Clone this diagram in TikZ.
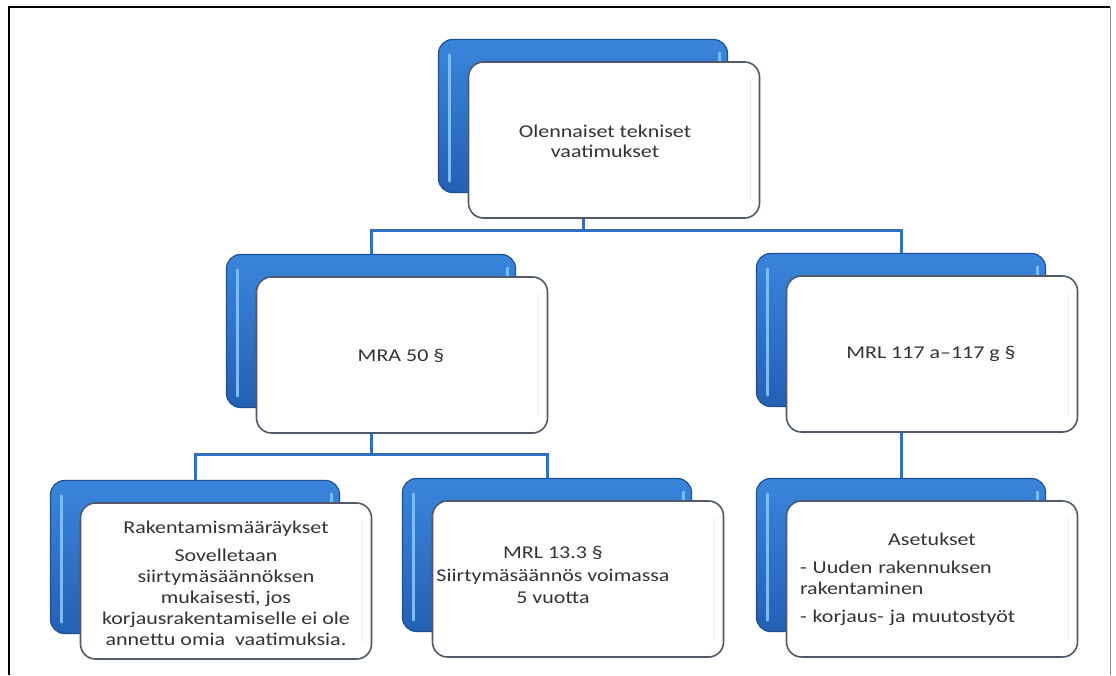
\documentclass[tikz,border=0pt]{standalone}
\usepackage{fontspec}
\setmainfont{Carlito}[FakeStretch=1.22]
\definecolor{blueTop}{HTML}{3A85DA}
\definecolor{blueBot}{HTML}{2460B4}
\definecolor{blueEdge}{HTML}{1E4F95}
\definecolor{blueHl}{HTML}{7CBCF4}
\definecolor{frameGray}{HTML}{4F5968}
\definecolor{txtGray}{HTML}{333333}
\definecolor{connBlue}{HTML}{3070BF}
\begin{document}
\begin{tikzpicture}[x=1pt,y=-1pt,
  back/.style={rectangle, rounded corners=14pt, minimum width=289pt, minimum height=153pt,
    top color=blueTop, bottom color=blueBot, draw=blueEdge, line width=1.2pt, inner sep=0pt},
  front/.style={rectangle, rounded corners=15pt, minimum width=291pt, minimum height=156pt,
    fill=white, draw=frameGray, line width=1.6pt, inner sep=0pt},
  hl/.style={draw=blueHl, line width=3pt, line cap=round},
  inner/.style={draw=black!8, line width=1.5pt},
  txt/.style={font=\fontsize{18}{21}\selectfont, text=txtGray, align=center, inner sep=0pt},
  conn/.style={draw=connBlue, line width=3pt}]
\useasboundingbox[fill=white] (0,0) rectangle (1116,675);
% frame
\draw[black, line width=2pt] (9,675) -- (9,7) -- (1110,7);
\draw[black!45, line width=1pt] (1110,7) -- (1110,675);
% junctions
\coordinate (j1) at (583,230);
\coordinate (j2) at (371,454);
% top box
\node[back] (topB) at (583,116) {};
\draw[hl] ([shift={(12,16)}]topB.north west) -- ([shift={(12,-12)}]topB.south west);
\draw[hl] ([shift={(-9,14)}]topB.north east) -- ([shift={(-9,22)}]topB.north east);
\node[front] (topF) at (614,140) {};
\draw[inner] ([shift={(-10,18)}]topF.north east) -- ([shift={(-10,-18)}]topF.south east);
% second row
\node[back] (mraB) at (371,331) {};
\node[back] (mrlB) at (901,330) {};
% third row
\node[back] (lbB) at (195,557) {};
\node[back] (midB) at (547,555) {};
\node[back] (rbB) at (901,555) {};
\foreach \b in {mraB,mrlB,lbB,midB,rbB}{
  \draw[hl] ([shift={(12,16)}]\b.north west) -- ([shift={(12,-12)}]\b.south west);
  \draw[hl] ([shift={(-9,14)}]\b.north east) -- ([shift={(-9,22)}]\b.north east);
}
% connectors
\draw[conn] (topB |- topF.south) -- (j1);
\draw[conn] (mraB.north) -- (mraB.north |- j1) -- (mrlB.north |- j1) -- (mrlB.north);
\node[front] (mraF) at (402,355) {};
\node[front] (mrlF) at (932,354) {};
\draw[conn] (mraB |- mraF.south) -- (j2);
\draw[conn] (lbB.north) -- (lbB.north |- j2) -- (midB.north |- j2) -- (midB.north);
\draw[conn] (mrlB |- mrlF.south) -- (rbB.north);
\node[front] (lbF) at (226,581) {};
\node[front] (midF) at (578,579) {};
\node[front] (rbF) at (932,579) {};
\foreach \f in {mraF,mrlF,lbF,midF,rbF}{
  \draw[inner] ([shift={(-10,18)}]\f.north east) -- ([shift={(-10,-18)}]\f.south east);
}
% texts
\node[txt] (topT) at (605,141) {Olennaiset tekniset\\[-1pt]vaatimukset};
\node[txt] (mraT) at (401,356) {MRA 50 §};
\node[txt] (mrlT) at (931,354) {MRL 117 a–117 g §};
\node[txt] (lbT) at (226,583) {Rakentamismääräykset\\[7pt]Sovelletaan\\siirtymäsäännöksen\\mukaisesti, jos\\korjausrakentamiselle ei ole\\annettu omia\ \ vaatimuksia.};
\node[txt] (midT) at (553,575) {MRL 13.3 §\\[2pt]Siirtymäsäännös voimassa\\[1pt]5 vuotta};
\node[txt, text width=264pt, align=left] (rbT) at (932,579) {\makebox[\linewidth]{Asetukset}\\[7pt]- Uuden rakennuksen\\rakentaminen\\[7pt]- korjaus- ja muutostyöt};
\end{tikzpicture}
\end{document}
